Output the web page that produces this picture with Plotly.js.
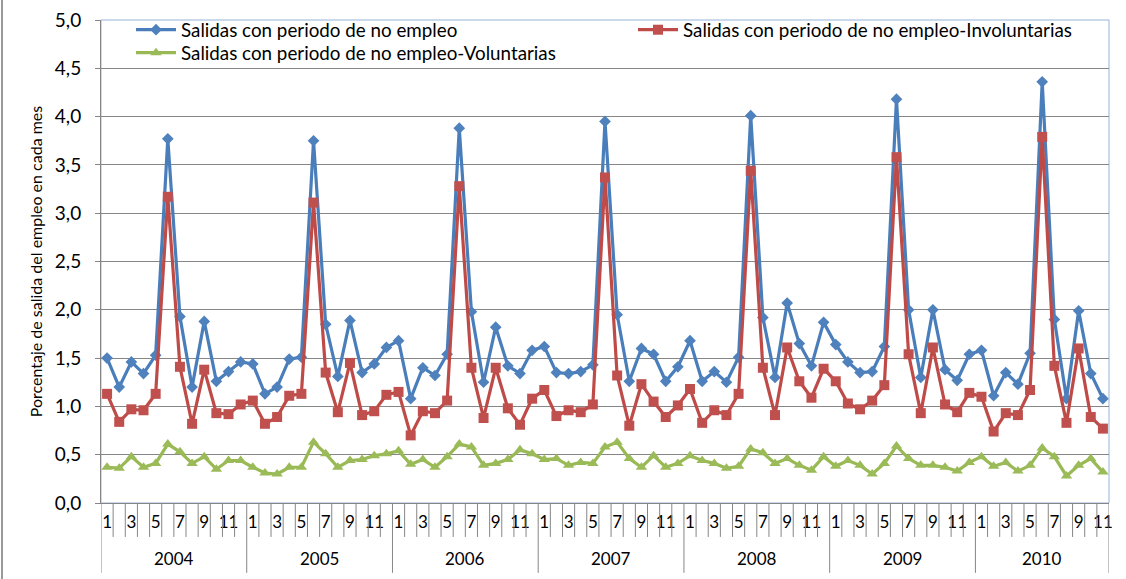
<!DOCTYPE html>
<html><head><meta charset="utf-8">
<script src="https://cdn.plot.ly/plotly-3.0.1.min.js"></script>
<style>html,body{margin:0;padding:0;background:#fff}#chart{width:1126px;height:579px}</style>
</head><body><div id="chart"></div>
<script>
const years = ['2004','2005','2006','2007','2008','2009','2010'];
const monthsPerYear = [12,12,12,12,12,12,11];
const seriesNames = [
  'Salidas con periodo de no empleo',
  'Salidas con periodo de no empleo-Involuntarias',
  'Salidas con periodo de no empleo-Voluntarias'
];
const yTicks = [0,0.5,1,1.5,2,2.5,3,3.5,4,4.5,5];
const yTitle = 'Porcentaje de salida del empleo en cada mes';

const salidasTotal = [
  1.50,1.20,1.46,1.34,1.53,3.77,1.93,1.20,1.88,1.26,1.36,1.46,
  1.44,1.13,1.20,1.49,1.51,3.75,1.85,1.31,1.89,1.35,1.44,1.61,
  1.68,1.08,1.40,1.32,1.54,3.88,1.98,1.25,1.82,1.42,1.34,1.58,
  1.62,1.35,1.34,1.36,1.43,3.95,1.95,1.26,1.60,1.54,1.26,1.41,
  1.68,1.26,1.36,1.25,1.51,4.01,1.92,1.30,2.07,1.65,1.42,1.87,
  1.64,1.46,1.35,1.36,1.62,4.18,2.00,1.30,2.00,1.38,1.27,1.54,
  1.58,1.11,1.35,1.23,1.55,4.36,1.90,1.08,1.99,1.34,1.08
];
const salidasInvol = [
  1.13,0.84,0.97,0.96,1.13,3.17,1.41,0.82,1.38,0.93,0.92,1.02,
  1.06,0.82,0.89,1.11,1.13,3.11,1.35,0.94,1.45,0.91,0.95,1.12,
  1.15,0.70,0.95,0.93,1.06,3.28,1.40,0.88,1.40,0.98,0.81,1.08,
  1.17,0.90,0.96,0.94,1.02,3.37,1.32,0.80,1.23,1.05,0.89,1.01,
  1.18,0.83,0.96,0.91,1.13,3.44,1.40,0.91,1.61,1.26,1.09,1.39,
  1.26,1.03,0.97,1.06,1.22,3.58,1.54,0.93,1.61,1.02,0.94,1.14,
  1.10,0.74,0.93,0.91,1.17,3.79,1.42,0.83,1.60,0.89,0.77
];
const salidasVol = [
  0.37,0.36,0.48,0.37,0.41,0.61,0.53,0.41,0.48,0.35,0.44,0.44,
  0.37,0.31,0.30,0.37,0.37,0.63,0.51,0.37,0.44,0.45,0.49,0.51,
  0.54,0.40,0.45,0.37,0.48,0.61,0.58,0.39,0.41,0.45,0.55,0.51,
  0.45,0.46,0.39,0.42,0.41,0.58,0.63,0.46,0.37,0.49,0.37,0.41,
  0.49,0.44,0.41,0.36,0.38,0.56,0.52,0.41,0.46,0.39,0.34,0.48,
  0.38,0.44,0.39,0.30,0.41,0.59,0.46,0.39,0.39,0.37,0.33,0.42,
  0.48,0.38,0.42,0.33,0.39,0.57,0.48,0.28,0.39,0.46,0.32
];

// category positions
const monthNum = [];
const yearStart = [];
years.forEach((y, k) => {
  yearStart.push(monthNum.length);
  for (let m = 1; m <= monthsPerYear[k]; m++) monthNum.push(m);
});
const n = monthNum.length;
const xIdx = monthNum.map((_, i) => i);
const tickvals = [], ticktext = [];
monthNum.forEach((m, i) => { if (m % 2 === 1) { tickvals.push(i); ticktext.push(String(m)); } });

const FONT = 'Lato, "Open Sans", sans-serif';
const GRAY = '#868686';

const traces = [
  {x: xIdx, y: salidasTotal, name: seriesNames[0], type: 'scatter', mode: 'lines+markers',
   line: {color: '#4A7EBB', width: 3.2}, marker: {symbol: 'diamond', size: 9, color: '#4F81BD'}, legend: 'legend'},
  {x: xIdx, y: salidasInvol, name: seriesNames[1], type: 'scatter', mode: 'lines+markers',
   line: {color: '#BE4B48', width: 3.2}, marker: {symbol: 'square', size: 10, color: '#C0504D'}, legend: 'legend2'},
  {x: xIdx, y: salidasVol, name: seriesNames[2], type: 'scatter', mode: 'lines+markers',
   line: {color: '#98B954', width: 3.2}, marker: {symbol: 'triangle-up', size: 10, color: '#9BBB59'}, legend: 'legend3'}
];

const plotH = 484;
const shapes = [];
// plot area frame (light blue)
shapes.push({type: 'rect', xref: 'paper', yref: 'paper', x0: 0, x1: 1, y0: 0, y1: 1,
  line: {color: '#95B3D7', width: 1}, layer: 'below'});
// month dividers
for (let i = 1; i < n; i++) {
  if (yearStart.indexOf(i) >= 0) continue;
  shapes.push({type: 'line', xref: 'x', yref: 'paper', x0: i - 0.5, x1: i - 0.5,
    y0: 0, y1: -34 / plotH, line: {color: GRAY, width: 1}});
}
// year dividers
yearStart.concat([n]).forEach(i => {
  shapes.push({type: 'line', xref: 'x', yref: 'paper', x0: i - 0.5, x1: i - 0.5,
    y0: 0, y1: -70 / plotH, line: {color: GRAY, width: 1}});
});
// outer left border of chart image
shapes.push({type: 'line', xref: 'paper', yref: 'paper', x0: -99 / 1008, x1: -99 / 1008,
  y0: -80 / plotH, y1: 1 + 25 / plotH, line: {color: '#9a9a9a', width: 2}});

const annotations = years.map((y, k) => ({
  x: yearStart[k] + (monthsPerYear[k] - 1) / 2, xref: 'x', y: -56 / plotH, yref: 'paper',
  text: y, showarrow: false, font: {family: FONT, size: 17, color: '#000'}, yanchor: 'middle'
}));

const legendBase = {orientation: 'h', bgcolor: 'rgba(0,0,0,0)', borderwidth: 0,
  font: {family: FONT, size: 18.8, color: '#000'}, xanchor: 'left', yanchor: 'top', itemwidth: 40};

const layout = {
  width: 1126, height: 579,
  margin: {l: 101, r: 17, t: 19, b: 76},
  paper_bgcolor: '#fff', plot_bgcolor: '#fff',
  separators: ',.',
  showlegend: true,
  font: {family: FONT, size: 17, color: '#000'},
  xaxis: {
    range: [-0.5, n - 0.5], tickvals: tickvals, ticktext: ticktext, ticks: '',
    showgrid: false, zeroline: false, showline: true, linecolor: GRAY, linewidth: 1,
    tickfont: {family: FONT, size: 17, color: '#000'}, ticklabelstandoff: 4
  },
  yaxis: {
    range: [0, 5], tickvals: yTicks, tickformat: '.1f', ticks: 'outside', ticklen: 5,
    tickcolor: GRAY, showgrid: true, gridcolor: GRAY, gridwidth: 1, zeroline: false,
    showline: true, linecolor: GRAY, linewidth: 1, ticklabelstandoff: 10,
    tickfont: {family: FONT, size: 19, color: '#000'},
    title: {text: yTitle, font: {family: FONT, size: 16, color: '#000'}, standoff: 8}
  },
  legend: Object.assign({}, legendBase, {x: 30 / 1008, y: 1 + 8 / plotH}),
  legend2: Object.assign({}, legendBase, {x: 532 / 1008, y: 1 + 8 / plotH}),
  legend3: Object.assign({}, legendBase, {x: 30 / 1008, y: 1 - 15 / plotH}),
  shapes: shapes,
  annotations: annotations
};

Plotly.newPlot('chart', traces, layout, {displayModeBar: false, staticPlot: true});
</script>
</body></html>
